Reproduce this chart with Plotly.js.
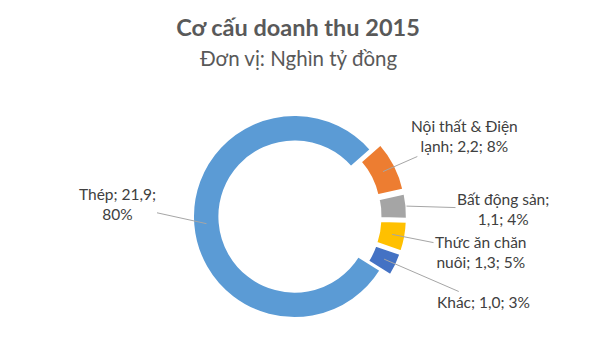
<!DOCTYPE html>
<html>
<head>
<meta charset="utf-8">
<script src="https://cdn.plot.ly/plotly-3.0.1.min.js"></script>
<style>html,body{margin:0;padding:0;background:#fff;}#chart{width:600px;height:361px;}</style>
</head>
<body>
<div id="chart"></div>
<script>
// ---- data ----
var categories = ["Thép", "Nội thất & Điện lạnh", "Bất động sản", "Thức ăn chăn nuôi", "Khác"];
var values = [21.9, 2.2, 1.1, 1.3, 1.0];
var percentLabels = ["80%", "8%", "4%", "5%", "3%"];
var colors = ["#5B9BD5", "#ED7D31", "#A5A5A5", "#FFC000", "#4472C4"];

// ---- layout / style constants ----
var W = 600, H = 361;
var CX = 294.5, CY = 216.5, R = 101.5;   // pie centre & outer radius (px)
var HOLE = 0.74, PULL = 0.108, ROTATION = 122;
var pulls = [0, PULL, PULL, PULL, PULL];
var wrapAt = [11, 15, 13, 13, 20];          // characters per label line
var tipDepth = [0.87, 0.87, 1.0, 0.87, 0.87]; // where leader line touches slice (fraction of R)
var labelCentre = [[117, 204], [464, 136], [503, 209], [481, 252], [483, 302]]; // px
var FONT = 'Lato, "Open Sans", sans-serif';

function fmt(v) { return v.toFixed(1).replace('.', ','); }
function wrap(s, n) {
  var words = s.split(' '), lines = [], cur = '';
  words.forEach(function (w) {
    var t = cur ? cur + ' ' + w : w;
    if (t.length > n && cur) { lines.push(cur); cur = w; } else { cur = t; }
  });
  if (cur) lines.push(cur);
  return lines.join('<br>');
}

var half = R * (1 + PULL);
var trace = {
  type: 'pie',
  labels: categories,
  values: values,
  sort: false,
  direction: 'clockwise',
  rotation: ROTATION,
  hole: HOLE,
  pull: pulls,
  textinfo: 'none',
  hoverinfo: 'skip',
  showlegend: false,
  marker: { colors: colors, line: { color: '#ffffff', width: 2 } },
  domain: { x: [(CX - half) / W, (CX + half) / W], y: [1 - (CY + half) / H, 1 - (CY - half) / H] }
};

// compute leader-line tips from slice angles
var total = values.reduce(function (a, b) { return a + b; }, 0);
var annotations = [];
var start = ROTATION;
values.forEach(function (v, i) {
  var span = v / total * 360;
  var mid = (start + span / 2) * Math.PI / 180;
  start += span;
  var rr = R * tipDepth[i] + R * pulls[i];
  var tx = CX + rr * Math.sin(mid), ty = CY - rr * Math.cos(mid);
  var txt = wrap(categories[i] + '; ' + fmt(v) + '; ' + percentLabels[i], wrapAt[i]);
  annotations.push({
    x: tx / W, y: 1 - ty / H, xref: 'paper', yref: 'paper',
    text: txt, showarrow: true, arrowhead: 0, arrowwidth: 1, arrowcolor: '#A6A6A6',
    ax: labelCentre[i][0] - tx, ay: labelCentre[i][1] - ty,
    align: 'center', font: { family: FONT, size: 15.5, color: '#404040' }
  });
});
annotations.push({
  text: 'Đơn vị: Nghìn tỷ đồng', x: 298 / W, y: 1 - 58 / H, xref: 'paper', yref: 'paper',
  showarrow: false, xanchor: 'center', yanchor: 'middle',
  font: { family: FONT, size: 20.5, color: '#595959' }
});

var layout = {
  width: W, height: H,
  margin: { l: 0, r: 0, t: 0, b: 0 },
  paper_bgcolor: '#ffffff',
  title: {
    text: '<b>Cơ cấu doanh thu 2015</b>',
    x: 298 / W, xanchor: 'center', xref: 'container',
    y: 1 - 28 / H, yanchor: 'middle', yref: 'container',
    font: { family: FONT, size: 23.5, color: '#595959' }
  },
  annotations: annotations
};

Plotly.newPlot('chart', [trace], layout, { displayModeBar: false, staticPlot: true });
</script>
</body>
</html>
